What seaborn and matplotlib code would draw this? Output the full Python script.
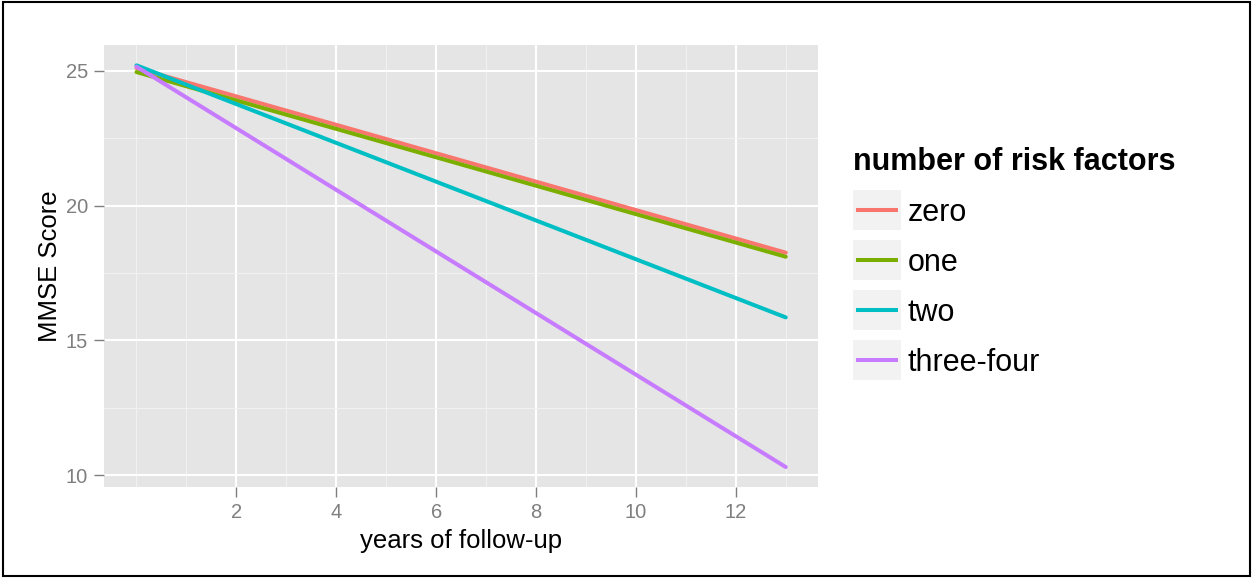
import matplotlib
matplotlib.use("Agg")
import matplotlib.pyplot as plt
import seaborn as sns
import pandas as pd
from matplotlib.legend_handler import HandlerBase
from matplotlib.patches import Rectangle
from matplotlib.lines import Line2D

# ---- data ----
groups = ["zero", "one", "two", "three-four"]
years = [0, 13]
start_scores = [25.10, 24.95, 25.20, 25.15]
end_scores = [18.25, 18.10, 15.85, 10.30]
colors = ["#F8766D", "#7CAE00", "#00BFC4", "#C77CFF"]
x_ticks = [2, 4, 6, 8, 10, 12]
y_ticks = [10, 15, 20, 25]

rows = []
for g, s, e in zip(groups, start_scores, end_scores):
    rows.append({"years": years[0], "score": s, "group": g})
    rows.append({"years": years[1], "score": e, "group": g})
df = pd.DataFrame(rows)

sns.set_theme(style="darkgrid")
plt.rcParams["font.family"] = ["Liberation Sans", "DejaVu Sans"]
plt.rcParams["text.color"] = "black"

fig = plt.figure(figsize=(12.53, 5.78), dpi=100)
ax = fig.add_axes([0.083, 0.157, 0.570, 0.765])
ax.set_facecolor("#E5E5E5")

sns.lineplot(data=df, x="years", y="score", hue="group", hue_order=groups,
             palette=colors, linewidth=2.9, ax=ax, legend=False)

ax.set_xlim(-0.65, 13.65)
ax.set_ylim(9.55, 25.95)
ax.set_xticks(x_ticks)
ax.set_yticks(y_ticks)
ax.set_xticks([0, 1, 3, 5, 7, 9, 11, 13], minor=True)
ax.set_yticks([12.5, 17.5, 22.5], minor=True)
ax.grid(which="major", color="white", linewidth=1.5)
ax.grid(which="minor", color="#F2F2F2", linewidth=0.7)
ax.set_axisbelow(True)
for sp in ax.spines.values():
    sp.set_visible(False)
ax.tick_params(axis="both", which="major", length=7, width=1, color="#7F7F7F",
               labelcolor="#7F7F7F", labelsize=14.5, pad=4.5, direction="out")
ax.tick_params(axis="both", which="minor", length=0)
ax.tick_params(bottom=True, left=True)
ax.set_xlabel("years of follow-up", fontsize=18.5, color="black", labelpad=5)
ax.set_ylabel("MMSE Score", fontsize=18.5, color="black", labelpad=3)


class KeyHandler(HandlerBase):
    def create_artists(self, legend, orig_handle, xdescent, ydescent, width,
                       height, fontsize, trans):
        extra = legend.labelspacing * fontsize
        pad = 0.12 * fontsize
        rect = Rectangle((-xdescent, -ydescent - extra / 2 + 0.7),
                         width, height + extra - 1.4,
                         facecolor="#F2F2F2", edgecolor="none", transform=trans)
        ymid = -ydescent + height / 2
        line = Line2D([-xdescent + pad, -xdescent + width - pad], [ymid, ymid],
                      color=orig_handle.get_color(),
                      linewidth=orig_handle.get_linewidth(),
                      solid_capstyle="butt", transform=trans)
        return [rect, line]


handles = [Line2D([], [], color=c, linewidth=2.9) for c in colors]
leg = fig.legend(handles, groups, loc="upper left", bbox_to_anchor=(0.6804, 0.745),
                 frameon=False, fontsize=22, title="number of risk factors",
                 title_fontproperties={"weight": "bold", "size": 22},
                 handler_map={Line2D: KeyHandler()},
                 handlelength=1.6, handletextpad=0.2, labelspacing=0.655,
                 borderaxespad=0, borderpad=0, labelcolor="black")
leg.get_title().set_color("black")
leg._legend_box.align = "left"
leg._legend_box.sep = 14.5

fig.patches.append(Rectangle((0.002, 0.003), 0.996, 0.994, transform=fig.transFigure,
                             fill=False, edgecolor="black", linewidth=1.5))

fig.savefig("out.png", dpi=100)
